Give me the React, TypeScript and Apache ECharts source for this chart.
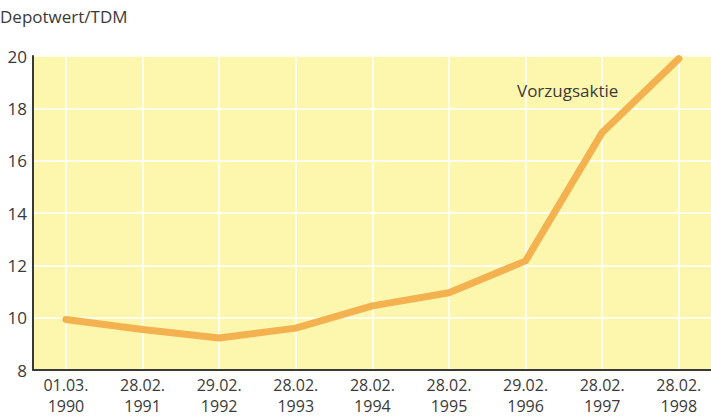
import React, { useEffect, useRef } from "react";
import * as echarts from "echarts";

const categories = ["01.03.\n1990", "28.02.\n1991", "29.02.\n1992", "28.02.\n1993", "28.02.\n1994", "28.02.\n1995", "29.02.\n1996", "28.02.\n1997", "28.02.\n1998"];
const values = [9.93, 9.55, 9.22, 9.6, 10.45, 10.95, 12.17, 17.08, 19.9];
const yTicks = [8, 10, 12, 14, 16, 18, 20];
const seriesName = "Vorzugsaktie";
const yTitle = "Depotwert/TDM";

export default function App() {
  const ref = useRef<HTMLDivElement>(null);
  useEffect(() => {
    if (!ref.current) return;
    const chart = echarts.init(ref.current, null, { renderer: "svg" });
    const font = "'Open Sans', 'Noto Sans', sans-serif";
    const idx = categories.map((_, i) => i);
    chart.setOption({
      animation: false,
      backgroundColor: "#ffffff",
      textStyle: { fontFamily: font },
      grid: { left: 33, right: 0, top: 56, bottom: 45, show: true, backgroundColor: "#fdf7ae", borderWidth: 0 },
      xAxis: {
        type: "value",
        min: -0.43,
        max: 8.42,
        axisLine: { show: true, onZero: false, lineStyle: { color: "#3a3a3a", width: 2 } },
        axisTick: { show: false, customValues: idx },
        axisLabel: {
          customValues: idx,
          formatter: (v: number) => categories[Math.round(v)] ?? "",
          color: "#3a3a3a",
          fontSize: 16,
          lineHeight: 21,
          margin: 4,
          fontFamily: font,
        },
        splitLine: { show: true, lineStyle: { color: "#fffdf0", width: 2 } },
      },
      yAxis: {
        type: "value",
        min: yTicks[0],
        max: yTicks[yTicks.length - 1],
        interval: 2,
        axisLine: { show: true, onZero: false, lineStyle: { color: "#3a3a3a", width: 2 } },
        axisTick: { show: false },
        axisLabel: { color: "#3a3a3a", fontSize: 17, margin: 6, fontFamily: font },
        splitLine: { show: true, lineStyle: { color: "#fffdf0", width: 2 } },
      },
      series: [
        {
          name: seriesName,
          type: "line",
          data: values.map((v, i) => [i, v]),
          symbol: "none",
          lineStyle: { color: "#f4b150", width: 7, cap: "round", join: "round" },
        },
      ],
      graphic: [
        {
          type: "text",
          left: 0,
          top: 8,
          z: 100,
          style: { text: yTitle, fill: "#3a3a3a", fontSize: 17, fontFamily: font },
        },
        {
          type: "text",
          left: 517,
          top: 82,
          z: 100,
          style: { text: seriesName, fill: "#3a3a3a", fontSize: 17, fontFamily: font },
        },
      ],
    });
    return () => chart.dispose();
  }, []);
  return <div ref={ref} style={{ position: "absolute", left: 0, top: 0, width: 711, height: 416 }} />;
}
